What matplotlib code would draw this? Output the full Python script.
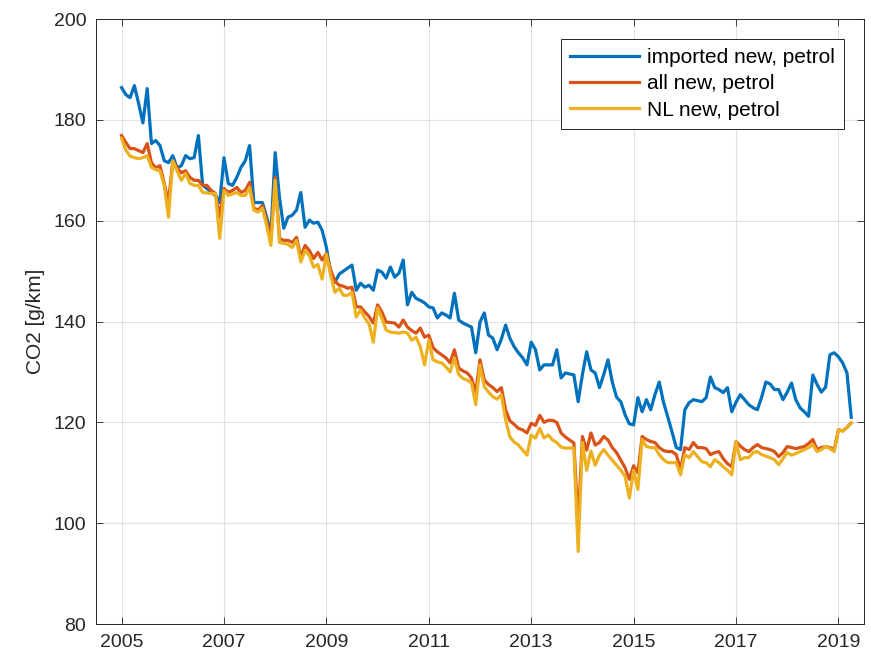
import numpy as np
import matplotlib
matplotlib.use("Agg")
import matplotlib.pyplot as plt

# monthly values, Jan 2005 .. Apr 2019 (CO2 in g/km)
imported_petrol = [
    186.4, 185.0, 184.4, 186.8, 183.2, 179.4, 186.2, 175.3, 175.9, 174.9, 171.9, 171.5,  # 2005
    172.9, 170.5, 170.9, 172.9, 172.3, 172.5, 176.9, 167.0, 166.4, 165.6, 165.0, 163.6,  # 2006
    172.5, 167.4, 167.0, 168.6, 170.6, 171.9, 174.9, 163.6, 163.6, 163.6, 160.7, 157.5,  # 2007
    173.5, 164.6, 158.5, 160.7, 161.1, 162.1, 165.6, 158.7, 160.1, 159.5, 159.7, 158.1,  # 2008
    154.7, 149.6, 147.8, 149.4, 150.0, 150.6, 151.2, 146.2, 147.6, 146.8, 147.2, 146.2,  # 2009
    150.2, 149.8, 148.6, 150.8, 148.8, 149.6, 152.2, 143.3, 145.8, 144.6, 144.2, 143.7,  # 2010
    142.9, 142.7, 140.7, 141.7, 141.3, 140.7, 145.6, 140.3, 139.7, 139.3, 138.9, 133.8,  # 2011
    139.9, 141.7, 137.3, 136.7, 134.4, 136.5, 139.3, 136.7, 135.0, 133.8, 132.8, 131.4,  # 2012
    135.9, 134.4, 130.4, 131.4, 131.4, 131.4, 134.4, 128.8, 129.8, 129.6, 129.4, 124.1,  # 2013
    129.5, 134.0, 130.4, 129.8, 126.9, 129.5, 132.4, 128.0, 125.0, 124.1, 121.5, 119.7,  # 2014
    119.5, 124.9, 122.1, 124.5, 122.5, 125.5, 128.0, 124.0, 121.1, 118.1, 115.0, 114.6,  # 2015
    122.5, 123.9, 124.5, 124.3, 124.1, 124.9, 129.0, 126.9, 126.5, 125.9, 126.9, 122.1,  # 2016
    124.0, 125.5, 124.5, 123.5, 122.9, 122.5, 125.0, 128.0, 127.6, 126.5, 126.5, 124.5,  # 2017
    126.0, 127.8, 124.5, 122.9, 122.1, 121.2, 129.4, 127.5, 126.0, 127.0, 133.4, 133.8,  # 2018
    133.0, 131.8, 129.8, 121.0,                                                          # 2019
]
all_petrol = [
    176.9, 175.5, 174.3, 174.3, 173.9, 173.5, 175.3, 171.5, 170.5, 170.9, 167.4, 163.5,
    171.9, 170.5, 169.5, 169.9, 168.6, 168.0, 168.0, 167.0, 167.0, 166.0, 165.4, 160.7,
    166.4, 165.6, 166.0, 166.6, 165.6, 166.0, 167.6, 162.5, 162.1, 163.0, 160.0, 156.5,
    168.6, 156.5, 156.1, 156.1, 155.7, 156.7, 152.8, 155.1, 154.1, 152.5, 153.7, 152.2,
    153.5, 150.2, 148.0, 147.2, 147.0, 146.6, 146.8, 142.9, 142.9, 141.9, 141.0, 139.7,
    143.3, 141.9, 139.9, 139.8, 139.7, 138.9, 140.3, 138.9, 138.2, 137.7, 138.7, 136.9,
    137.3, 134.8, 134.0, 133.4, 132.8, 131.8, 134.4, 130.8, 130.2, 129.8, 128.8, 125.9,
    132.4, 128.4, 127.5, 126.9, 126.1, 126.9, 122.5, 120.3, 119.6, 118.8, 118.5, 117.9,
    119.8, 119.4, 121.4, 120.0, 120.4, 120.4, 120.0, 117.9, 117.1, 116.5, 115.9, 100.0,
    117.2, 114.5, 117.9, 115.5, 116.0, 117.2, 116.5, 115.0, 114.0, 112.5, 111.0, 108.7,
    111.4, 110.0, 117.2, 116.6, 116.2, 116.0, 115.0, 114.4, 114.2, 114.2, 113.6, 110.6,
    115.0, 114.6, 116.0, 115.0, 115.0, 114.8, 113.6, 114.0, 114.2, 112.8, 111.8, 111.2,
    116.2, 115.3, 114.6, 114.2, 115.0, 115.6, 115.0, 114.8, 114.6, 114.2, 113.2, 114.0,
    115.2, 115.0, 114.8, 115.0, 115.2, 115.8, 116.6, 114.6, 115.0, 115.2, 115.0, 114.6,
    118.5, 118.3, 119.0, 119.9,
]
nl_petrol = [
    176.3, 174.0, 172.8, 172.5, 172.3, 172.5, 172.9, 170.6, 170.1, 169.9, 167.0, 160.7,
    171.9, 169.9, 168.0, 169.4, 167.4, 167.0, 167.0, 165.6, 165.5, 165.4, 165.4, 156.5,
    166.0, 165.0, 165.3, 165.6, 165.0, 165.0, 166.6, 162.1, 161.7, 162.5, 159.0, 155.1,
    168.0, 155.7, 155.5, 155.3, 154.7, 156.1, 151.8, 154.1, 153.1, 150.8, 151.3, 148.4,
    153.3, 149.2, 145.8, 146.6, 145.2, 145.2, 145.8, 140.9, 142.3, 140.7, 139.5, 135.9,
    142.7, 140.7, 138.3, 137.9, 137.8, 137.7, 137.9, 137.7, 136.3, 136.9, 135.0, 131.4,
    136.3, 132.4, 132.0, 131.8, 131.0, 130.0, 132.8, 129.5, 128.7, 128.4, 127.8, 123.5,
    131.4, 127.1, 126.0, 125.1, 124.6, 125.5, 120.5, 117.1, 116.1, 115.5, 114.5, 113.5,
    117.5, 116.9, 118.8, 116.9, 117.5, 116.5, 116.0, 115.1, 114.9, 114.9, 114.9, 94.4,
    116.0, 110.5, 114.3, 111.5, 113.5, 114.6, 113.5, 112.5, 111.5, 110.5, 109.3, 105.0,
    110.5, 106.7, 116.6, 115.2, 115.0, 115.0, 113.6, 112.6, 112.0, 112.0, 112.0, 109.6,
    113.6, 113.0, 114.2, 113.2, 112.2, 112.0, 111.2, 112.6, 112.0, 111.2, 110.5, 109.6,
    116.2, 112.6, 113.0, 113.0, 114.0, 114.2, 113.6, 113.3, 113.0, 112.6, 111.6, 112.8,
    114.0, 113.5, 113.8, 114.2, 114.6, 115.0, 115.6, 114.2, 114.6, 115.2, 114.8, 114.2,
    118.5, 118.3, 119.0, 119.9,
]
series_labels = ["imported new, petrol", "all new, petrol", "NL new, petrol"]
year_ticks = [2005, 2007, 2009, 2011, 2013, 2015, 2017, 2019]
co2_ticks = [80, 100, 120, 140, 160, 180, 200]

t = 2005 + np.arange(len(all_petrol)) / 12.0

plt.rcParams["font.family"] = ["Liberation Sans", "DejaVu Sans"]

fig = plt.figure(figsize=(8.71, 6.63), dpi=100)
ax = fig.add_axes([0.1102, 0.0588, 0.8818, 0.9125])

colors = ["#0072BD", "#D95319", "#EDB120"]
for y, lab, c in zip([imported_petrol, all_petrol, nl_petrol], series_labels, colors):
    ax.plot(t[:len(y)], y, color=c, lw=2.3, label=lab)

ax.set_xlim(2004.5, 2019.5)
ax.set_ylim(80, 200)
ax.set_xticks(year_ticks)
ax.set_yticks(co2_ticks)
ax.tick_params(direction="in", length=5, width=0.6, colors="#262626",
               labelsize=14, top=True, right=True, pad=7)
ax.grid(True, color="#262626", alpha=0.13, lw=0.8)
ax.set_axisbelow(True)
for s in ax.spines.values():
    s.set_color("#262626")
    s.set_linewidth(0.7)
ax.set_ylabel("CO2 [g/km]", fontsize=15, color="#262626", labelpad=6)

leg = ax.legend(loc="upper right", fontsize=15, handlelength=3.3,
                handletextpad=0.4, borderaxespad=0.95, fancybox=False,
                framealpha=1, edgecolor="#262626", borderpad=0.45,
                labelspacing=0.35)
leg.get_frame().set_linewidth(0.7)

fig.savefig("out.png", dpi=100)
